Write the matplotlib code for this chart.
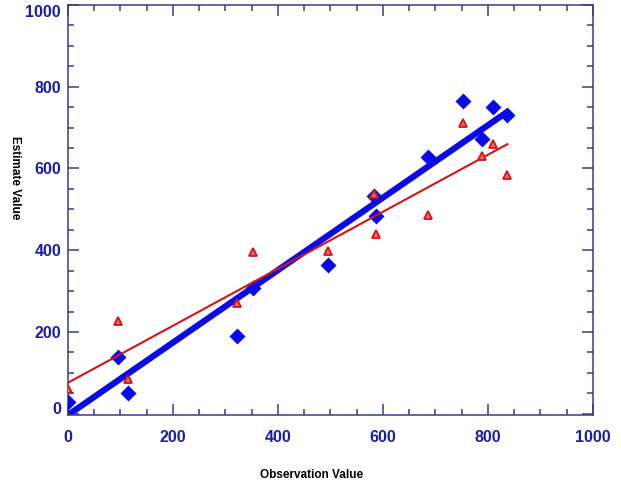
import matplotlib
matplotlib.use("Agg")
import matplotlib.pyplot as plt
from matplotlib.ticker import MultipleLocator
import numpy as np

# observation values (shared by both series)
obs = [0, 95, 114, 322, 352, 495, 583, 587, 686, 752, 789, 810, 837]
# estimates, blue diamonds
est_blue = [30, 138, 52, 190, 307, 365, 533, 483, 629, 766, 671, 750, 730]
# estimates, red triangles
est_red = [60, 226, 85, 272, 396, 398, 537, 439, 486, 711, 630, 660, 584]

# fitted lines: (intercept, slope)
fit_blue = (-3, 0.886)
fit_red = (76, 0.697)

tick_vals = [0, 200, 400, 600, 800, 1000]

navy = "#1c1ca8"
spine_col = "#3a3a8c"

plt.rcParams['font.family'] = ['Liberation Sans', 'DejaVu Sans']

fig = plt.figure(figsize=(6.21, 4.91), dpi=100)
ax = fig.add_axes([0.1095, 0.1548, 0.8454, 0.8352])

x = np.array(obs, dtype=float)
xx = np.array([0, x.max()])

ax.plot(xx, fit_blue[0] + fit_blue[1] * xx, color="#0a0ae6", lw=4.5,
        solid_capstyle="butt", zorder=2)
ax.plot(x, est_blue, "D", color="#0a0ae6", ms=8, mec="none", zorder=3)
ax.plot(xx, fit_red[0] + fit_red[1] * xx, color="#d41414", lw=1.5, zorder=4)
ax.plot(x, est_red, "^", ms=6, mfc="#e86a6a", mec="#d41414", mew=1.3, zorder=5)

ax.set_xlim(0, 1000)
ax.set_ylim(-3, 1000)
ax.set_xticks(tick_vals)
ax.set_yticks(tick_vals)
ax.xaxis.set_minor_locator(MultipleLocator(50))
ax.yaxis.set_minor_locator(MultipleLocator(50))

ax.tick_params(which="both", direction="in", top=True, right=True,
               color=spine_col, width=1.1)
ax.tick_params(which="major", length=8)
ax.tick_params(which="minor", length=4)
ax.tick_params(axis="x", pad=11, labelsize=11.5, labelcolor=navy)
ax.tick_params(axis="y", pad=5, labelsize=11.5, labelcolor=navy)
for lb in ax.get_xticklabels() + ax.get_yticklabels():
    lb.set_fontweight("bold")

ylabs = ax.get_yticklabels()
ylabs[0].set_verticalalignment("baseline")
ylabs[-1].set_verticalalignment("top")

for s in ax.spines.values():
    s.set_color(spine_col)
    s.set_linewidth(1.1)

fig.text(0.501, 0.0326, "Observation Value", ha="center", va="center",
         fontsize=8.5, fontweight="bold", color="black")
fig.text(0.024, 0.6375, "Estimate Value", ha="center", va="center",
         rotation=-90, fontsize=8.5, fontweight="bold", color="black")

fig.savefig("out.png", dpi=100)
